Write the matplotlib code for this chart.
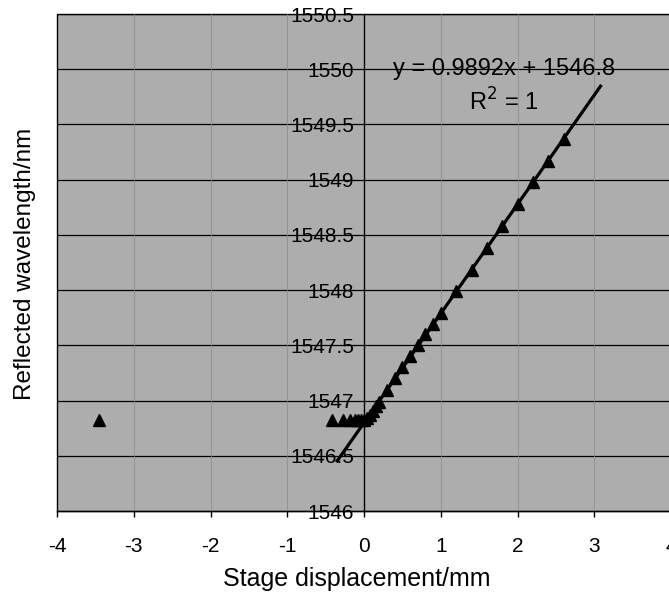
import numpy as np
import matplotlib
matplotlib.use("Agg")
import matplotlib.pyplot as plt

plt.rcParams["font.family"] = ["Liberation Sans", "DejaVu Sans"]

# stage displacement (mm) and reflected wavelength (nm)
displacement = [-3.45, -0.42, -0.28, -0.18, -0.12, -0.08, -0.04, 0.0,
                0.04, 0.08, 0.12, 0.16, 0.2, 0.3, 0.4, 0.5, 0.6, 0.7,
                0.8, 0.9, 1.0, 1.2, 1.4, 1.6, 1.8, 2.0, 2.2, 2.4, 2.6]
wavelength = [1546.82, 1546.82, 1546.82, 1546.82, 1546.82, 1546.82, 1546.82, 1546.82,
              1546.84, 1546.87, 1546.91, 1546.95, 1546.99, 1547.10, 1547.20, 1547.30,
              1547.40, 1547.50, 1547.60, 1547.69, 1547.79, 1547.99, 1548.18, 1548.38,
              1548.58, 1548.78, 1548.98, 1549.17, 1549.37]

slope, intercept = 0.9892, 1546.8
trend_range = [-0.35, 3.08]

x_ticks = [-4, -3, -2, -1, 0, 1, 2, 3, 4]
y_ticks = [1546, 1546.5, 1547, 1547.5, 1548, 1548.5, 1549, 1549.5, 1550, 1550.5]
y_labels = ["1546", "1546.5", "1547", "1547.5", "1548", "1548.5",
            "1549", "1549.5", "1550", "1550.5"]

fig = plt.figure(figsize=(6.69, 5.94), dpi=100)
ax = fig.add_axes([0.0852, 0.1397, 0.918, 0.8367])
ax.set_facecolor("#adadad")
ax.patch.set_edgecolor("black")
ax.patch.set_linewidth(1.0)

ax.set_xlim(-4, 4)
ax.set_ylim(1546, 1550.5)

# gridlines: horizontal black, vertical barely visible
for yv in y_ticks[1:]:
    ax.axhline(yv, color="black", linewidth=0.9, zorder=1)
for xv in x_ticks[1:-1]:
    ax.axvline(xv, color="#8a8a8a", linewidth=0.5, zorder=1)

tx = np.array(trend_range)
ax.plot(tx, slope * tx + intercept, color="black", linewidth=2.3, zorder=3)
ax.plot(displacement, wavelength, linestyle="none", marker="^", markersize=9,
        color="black", zorder=4)

for s in ["top", "right"]:
    ax.spines[s].set_visible(False)
ax.spines["left"].set_position(("data", 0))
ax.spines["left"].set_linewidth(1.0)
ax.spines["bottom"].set_linewidth(1.0)

ax.set_xticks(x_ticks)
ax.set_xticklabels([str(v) for v in x_ticks])
ax.set_yticks(y_ticks)
ax.set_yticklabels(y_labels)
ax.tick_params(axis="x", direction="out", length=4, width=1, pad=15, labelsize=15)
ax.tick_params(axis="y", direction="out", length=0, pad=7, labelsize=15)

ax.text(1.83, 1550.0, "y = 0.9892x + 1546.8", fontsize=17, ha="center", va="center", zorder=5)
ax.text(1.82, 1549.7, "R$^2$ = 1", fontsize=17, ha="center", va="center", zorder=5)

fig.text(0.534, 0.025, "Stage displacement/mm", fontsize=18, ha="center", va="center")
fig.text(0.037, 0.556, "Reflected wavelength/nm", fontsize=17.5, ha="center", va="center",
         rotation=90)

fig.savefig("out.png", dpi=100)
plt.close(fig)
